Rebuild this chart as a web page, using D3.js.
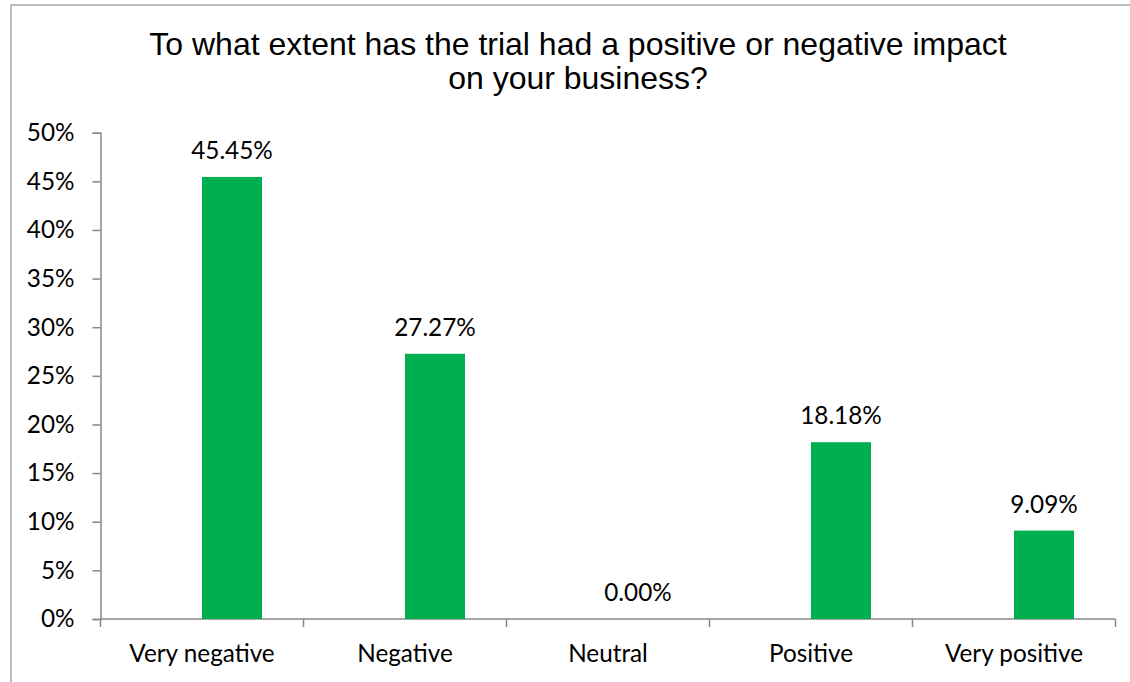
<!DOCTYPE html>
<html>
<head>
<meta charset="utf-8">
<script src="https://cdn.jsdelivr.net/npm/d3@7"></script>
<style>
  html, body { margin: 0; padding: 0; background: #fff; }
  svg { display: block; }
</style>
</head>
<body>
<svg id="chart" width="1130" height="682"></svg>
<script>
// Survey responses: share of businesses per impact rating
const categories = ["Very negative", "Negative", "Neutral", "Positive", "Very positive"];
const shares = [0.4545, 0.2727, 0.0, 0.1818, 0.0909];
const yTicks = [0, 0.05, 0.10, 0.15, 0.20, 0.25, 0.30, 0.35, 0.40, 0.45, 0.50];
const titleLines = ["To what extent has the trial had a positive or negative impact", "on your business?"];

const svg = d3.select("#chart");
const W = 1130, H = 682;
const plot = { left: 100.5, right: 1115.5, top: 132.7, bottom: 619 };
const labelFont = "Lato, 'Open Sans', sans-serif";
const labelSize = 24.3;
const axisColor = "#898989";

// outer frame of the chart area
svg.append("rect")
  .attr("x", 11).attr("y", 5)
  .attr("width", W + 20).attr("height", H + 20)
  .attr("fill", "#fff")
  .attr("stroke", "#a6a6a6").attr("stroke-width", 1.5);

// title
svg.append("text")
  .attr("x", 578).attr("y", 55)
  .attr("text-anchor", "middle")
  .attr("font-family", "'Liberation Sans', Arial, sans-serif")
  .attr("font-size", 32)
  .attr("fill", "#000")
  .selectAll("tspan").data(titleLines).join("tspan")
  .attr("x", 578)
  .attr("dy", (d, i) => i === 0 ? 0 : 34)
  .text(d => d);

const x = d3.scaleBand().domain(categories).range([plot.left, plot.right]).padding(0);
const y = d3.scaleLinear().domain([0, 0.5]).range([plot.bottom, plot.top]);

// each category holds a two-slot cluster; the values sit in the right slot
const slots = ["blank", "share"];
const clusterWidth = 120;
const sub = d3.scaleBand().domain(slots)
  .range([x.bandwidth() / 2 - clusterWidth / 2, x.bandwidth() / 2 + clusterWidth / 2]);

// y axis
const yAxis = d3.axisLeft(y)
  .tickValues(yTicks)
  .tickFormat(d3.format(".0%"))
  .tickSize(8)
  .tickPadding(18);
const gy = svg.append("g").attr("transform", `translate(${plot.left},0)`).call(yAxis);
gy.select(".domain").attr("stroke", axisColor).attr("stroke-width", 1.5);
gy.selectAll(".tick line").attr("stroke", axisColor).attr("stroke-width", 1.5);
gy.selectAll(".tick text")
  .attr("font-family", labelFont).attr("font-size", labelSize).attr("fill", "#000");

// x axis: tick marks at category boundaries, labels centred under each category
const boundaries = categories.map(c => x(c)).concat([plot.right]);
const gx = svg.append("g");
gx.append("line")
  .attr("x1", plot.left).attr("x2", plot.right)
  .attr("y1", y(0)).attr("y2", y(0))
  .attr("stroke", axisColor).attr("stroke-width", 1.5);
gx.selectAll("line.tick").data(boundaries).join("line")
  .attr("class", "tick")
  .attr("x1", d => d).attr("x2", d => d)
  .attr("y1", y(0)).attr("y2", y(0) + 8)
  .attr("stroke", axisColor).attr("stroke-width", 1.5);
gx.selectAll("text").data(categories).join("text")
  .attr("x", d => x(d) + x.bandwidth() / 2)
  .attr("y", 662)
  .attr("text-anchor", "middle")
  .attr("font-family", labelFont).attr("font-size", labelSize).attr("fill", "#000")
  .text(d => d);

// bars
const data = categories.map((c, i) => ({ cat: c, value: shares[i] }));
svg.append("g").selectAll("rect").data(data).join("rect")
  .attr("x", d => x(d.cat) + sub("share"))
  .attr("width", sub.bandwidth())
  .attr("y", d => y(d.value))
  .attr("height", d => y(0) - y(d.value))
  .attr("fill", "#00b050");

// value labels
svg.append("g").selectAll("text").data(data).join("text")
  .attr("x", d => x(d.cat) + sub("share") + sub.bandwidth() / 2)
  .attr("y", d => y(d.value) - 18)
  .attr("text-anchor", "middle")
  .attr("font-family", labelFont).attr("font-size", labelSize).attr("fill", "#000")
  .text(d => d3.format(".2%")(d.value));
</script>
</body>
</html>
